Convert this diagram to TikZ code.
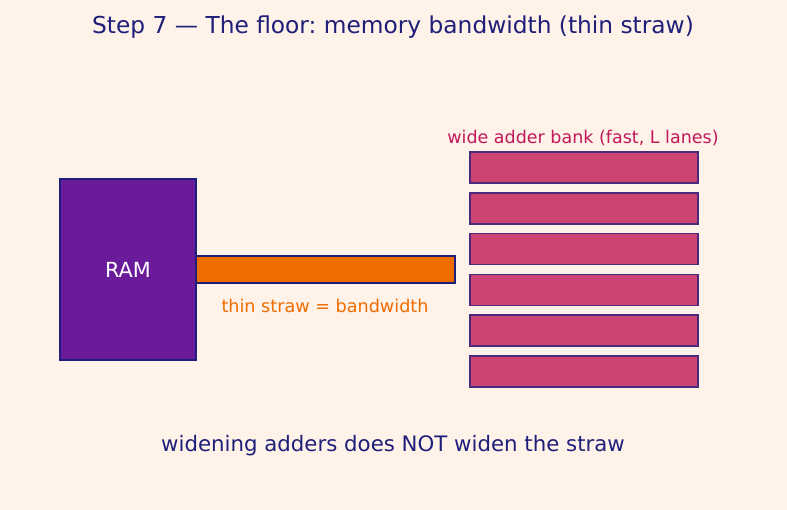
\documentclass[tikz,border=0pt]{standalone}
\usepackage{fontspec}
\setmainfont{DejaVu Sans}
\frenchspacing
\definecolor{bgpeach}{HTML}{FFF2E8}
\definecolor{navy}{HTML}{1F1F7A}
\definecolor{rampurple}{HTML}{6A1B9A}
\definecolor{straworange}{HTML}{EF6C00}
\definecolor{addercrimson}{HTML}{C2185B}
\definecolor{adderfill}{HTML}{CB4474}
\definecolor{adderedge}{HTML}{4A2A7A}
\tikzset{
  box/.style={draw=navy,line width=1.5pt,inner sep=0pt,outer sep=0pt},
  lane/.style={box,draw=adderedge,fill=adderfill,minimum width=228pt,minimum height=31pt,anchor=north west},
}
\begin{document}
\begin{tikzpicture}[x=1pt,y=-1pt]

	\fill[bgpeach] (0,0) rectangle (787,510);
	\useasboundingbox (0,0) rectangle (787,510);

	\node (title) at (393,27) [navy,font=\fontsize{23.3}{28}\selectfont] {Step 7 — The floor: memory bandwidth (thin straw)};

	\node (ram) at (60,179) [box,fill=rampurple,anchor=north west,minimum width=136pt,minimum height=181pt] {};
	\node (ramtext) at (ram.center) [white,font=\fontsize{20.8}{25}\selectfont] {RAM};

	\node (straw) at (ram.east) [box,fill=straworange,anchor=west,minimum width=259pt,minimum height=27pt] {};
	\node (strawtext) at (325,306) [straworange,font=\fontsize{17.6}{21}\selectfont] {thin straw = bandwidth};

	\node (banktext) at (583,138) [addercrimson,font=\fontsize{17.5}{21}\selectfont] {wide adder bank (fast, L lanes)};
	\foreach \i in {0,...,5}
	   \node (lane\i) at (470,{152+40.8*\i}) [lane] {};

	\node (footer) at (393,446) [navy,font=\fontsize{21.3}{26}\selectfont] {widening adders does NOT widen the straw};

\end{tikzpicture}
\end{document}
